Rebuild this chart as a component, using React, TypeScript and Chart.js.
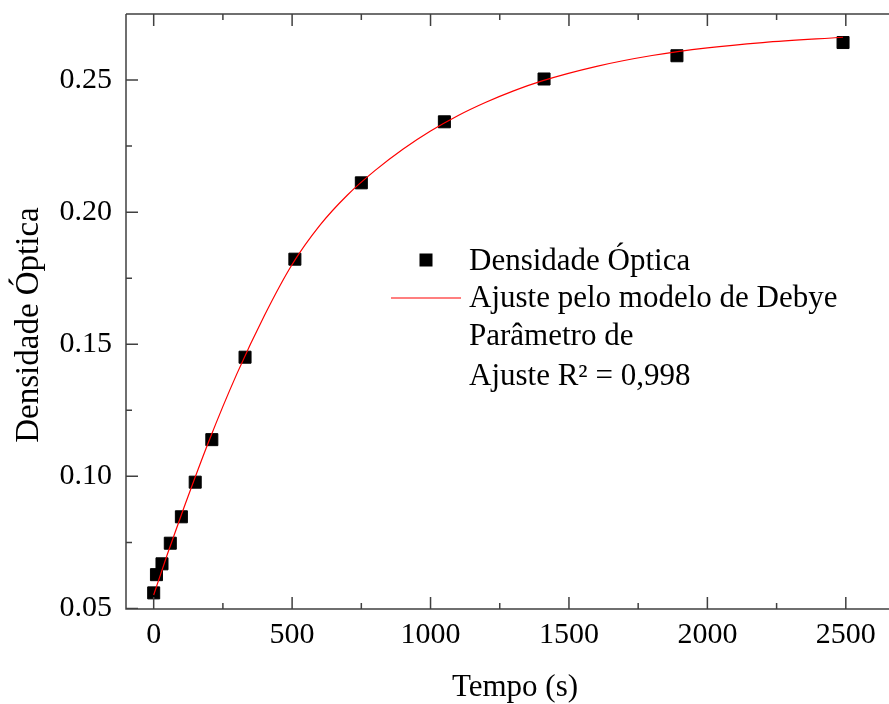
import React, { useEffect, useRef } from 'react';
import { Chart, registerables } from 'chart.js';

Chart.register(...registerables);

// Measured data (time in s, optical density)
const timeSeconds = [0, 10, 30, 60, 100, 150, 210, 330, 510, 750, 1050, 1410, 1890, 2490];
const opticalDensity = [0.0559, 0.0628, 0.0669, 0.0747, 0.0847, 0.0978, 0.1139, 0.1451, 0.1822, 0.2111, 0.2342, 0.2504, 0.2592, 0.2642];

// Debye fit curve
const fitTime = [0, 50, 100, 200, 300, 400, 500, 600, 700, 800, 900, 1000, 1100, 1200, 1300, 1400, 1600, 1800, 2000, 2200, 2490];
const fitDensity = [0.0551, 0.0707, 0.0855, 0.1135, 0.1387, 0.1609, 0.1802, 0.1950, 0.2065, 0.2158, 0.2238, 0.2307, 0.2366, 0.2416, 0.2459, 0.2496, 0.2552, 0.2593, 0.2622, 0.2642, 0.2662];

const xTicks = [0, 500, 1000, 1500, 2000, 2500];
const xMinorTicks = [250, 750, 1250, 1750, 2250];
const yTicks = [0.05, 0.1, 0.15, 0.2, 0.25];
const yMinorTicks = [0.075, 0.125, 0.175, 0.225];

const xTitle = 'Tempo (s)';
const yTitle = 'Densidade Óptica';
const legendLines = ['Densidade Óptica', 'Ajuste pelo modelo de Debye', 'Parâmetro de', 'Ajuste R² = 0,998'];

const FONT = '"Liberation Serif", "Times New Roman", Times, serif';
const AXIS_COLOR = '#404040';

const framePlugin = {
  id: 'frameAndLegend',
  afterDraw(chart: any) {
    const { ctx, chartArea, scales } = chart;
    const { left, right, top, bottom } = chartArea;
    const xs = scales.x;
    const ys = scales.y;
    ctx.save();
    ctx.strokeStyle = AXIS_COLOR;
    ctx.lineWidth = 1.5;
    ctx.beginPath();
    ctx.moveTo(left, top);
    ctx.lineTo(right, top);
    ctx.moveTo(left, top);
    ctx.lineTo(left, bottom);
    ctx.lineTo(right, bottom);
    const tick = (vals: number[], len: number) => {
      for (const v of vals) {
        const px = xs.getPixelForValue(v);
        ctx.moveTo(px, bottom);
        ctx.lineTo(px, bottom - len);
        ctx.moveTo(px, top);
        ctx.lineTo(px, top + len);
      }
    };
    tick(xTicks, 12);
    tick(xMinorTicks, 6);
    const ytick = (vals: number[], len: number) => {
      for (const v of vals) {
        const py = ys.getPixelForValue(v);
        ctx.moveTo(left, py);
        ctx.lineTo(left + len, py);
      }
    };
    ytick(yTicks, 12);
    ytick(yMinorTicks, 6);
    ctx.stroke();

    // Axis titles
    ctx.fillStyle = '#000';
    ctx.textAlign = 'center';
    ctx.textBaseline = 'middle';
    ctx.font = `31px ${FONT}`;
    ctx.fillText(xTitle, 515, 688);
    ctx.save();
    ctx.translate(29, 325);
    ctx.rotate(-Math.PI / 2);
    ctx.font = `33px ${FONT}`;
    ctx.fillText(yTitle, 0, 0);
    ctx.restore();

    // Legend
    ctx.fillStyle = '#000';
    ctx.fillRect(426 - 6.5, 260 - 6.5, 13, 13);
    ctx.strokeStyle = '#ff0000';
    ctx.lineWidth = 1.2;
    ctx.beginPath();
    ctx.moveTo(391, 298);
    ctx.lineTo(461, 298);
    ctx.stroke();
    ctx.font = `31px ${FONT}`;
    ctx.textAlign = 'left';
    ctx.textBaseline = 'alphabetic';
    const baselines = [270, 307, 345, 385];
    legendLines.forEach((t, i) => ctx.fillText(t, 469, baselines[i]));
    ctx.restore();
  },
};

export default function App() {
  const ref = useRef<HTMLCanvasElement>(null);
  useEffect(() => {
    if (!ref.current) return;
    const chart = new Chart(ref.current, {
      type: 'scatter',
      data: {
        datasets: [
          {
            label: 'Ajuste pelo modelo de Debye',
            data: fitTime.map((t, i) => ({ x: t, y: fitDensity[i] })),
            showLine: true,
            borderColor: '#ff0000',
            borderWidth: 1.2,
            pointRadius: 0,
            cubicInterpolationMode: 'monotone',
            order: 0,
          } as any,
          {
            label: 'Densidade Óptica',
            data: timeSeconds.map((t, i) => ({ x: t, y: opticalDensity[i] })),
            pointStyle: 'rect',
            pointRadius: 8.5,
            backgroundColor: '#000',
            borderColor: '#000',
            borderWidth: 1,
            order: 1,
          } as any,
        ],
      },
      options: {
        animation: false,
        responsive: false,
        devicePixelRatio: 1,
        layout: { autoPadding: false, padding: { top: 14, right: 0, bottom: 0, left: 0 } },
        plugins: { legend: { display: false }, tooltip: { enabled: false } },
        scales: {
          x: {
            type: 'linear',
            min: -100,
            max: 2656,
            grid: { display: false, drawTicks: false },
            border: { display: false },
            afterBuildTicks: (s: any) => {
              s.ticks = xTicks.map((v) => ({ value: v }));
            },
            afterFit: (s: any) => {
              s.height = 95;
              s.paddingLeft = 0;
              s.paddingRight = 0;
            },
            ticks: {
              color: '#000',
              font: { family: FONT, size: 30, lineHeight: 1.2 },
              padding: 8,
              autoSkip: false,
              maxRotation: 0,
              callback: (v: any) => String(v),
            },
            title: { display: false },
          },
          y: {
            type: 'linear',
            min: 0.0498,
            max: 0.275,
            grid: { display: false, drawTicks: false },
            border: { display: false },
            afterBuildTicks: (s: any) => {
              s.ticks = yTicks.map((v) => ({ value: v }));
            },
            afterFit: (s: any) => {
              s.width = 126;
              s.paddingTop = 0;
              s.paddingBottom = 0;
            },
            ticks: {
              color: '#000',
              font: { family: FONT, size: 30, lineHeight: 1.2 },
              padding: 14,
              autoSkip: false,
              callback: (v: any) => Number(v).toFixed(2),
            },
            title: { display: false },
          },
        },
      },
      plugins: [framePlugin],
    });
    return () => chart.destroy();
  }, []);
  return (
    <div style={{ position: 'absolute', left: 0, top: 0, width: 889, height: 704, background: '#fff' }}>
      <canvas ref={ref} width={889} height={704} style={{ display: 'block' }} />
    </div>
  );
}
